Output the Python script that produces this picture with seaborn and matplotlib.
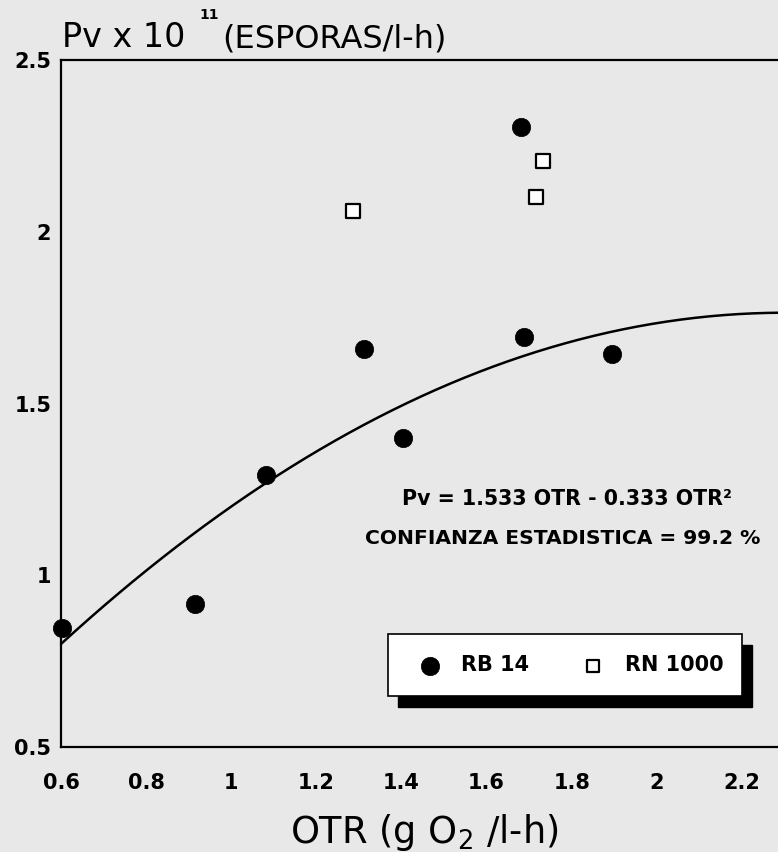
import numpy as np
import pandas as pd
import seaborn as sns
import matplotlib
matplotlib.use("Agg")
import matplotlib.pyplot as plt
from matplotlib.patches import Rectangle

# ---- data ----
rb14_otr = [0.602, 0.915, 1.082, 1.313, 1.404, 1.687, 1.682, 1.895]
rb14_pv = [0.845, 0.916, 1.291, 1.660, 1.401, 1.693, 2.304, 1.645]
rn1000_otr = [1.287, 1.716, 1.732]
rn1000_pv = [2.060, 2.100, 2.207]
# fitted curve as stated on the chart: Pv = 1.533 OTR - 0.333 OTR^2
fit_lin = 1.533
fit_quad = -0.333
x_ticks = [0.6, 0.8, 1.0, 1.2, 1.4, 1.6, 1.8, 2.0, 2.2]
x_tick_labels = ["0.6", "0.8", "1", "1.2", "1.4", "1.6", "1.8", "2", "2.2"]
y_ticks = [0.5, 1.0, 1.5, 2.0, 2.5]
y_tick_labels = ["0.5", "1", "1.5", "2", "2.5"]
series_names = ["RB 14", "RN 1000"]

sns.set_style("white")
plt.rcParams["font.family"] = ["DejaVu Sans"]
plt.rcParams["mathtext.fontset"] = "dejavusans"
plt.rcParams["text.color"] = "black"
plt.rcParams["axes.labelcolor"] = "black"
plt.rcParams["xtick.color"] = "black"
plt.rcParams["ytick.color"] = "black"

W, H = 778, 852
fig = plt.figure(figsize=(W / 100, H / 100), dpi=100)
bg = "#e8e8e8"
fig.patch.set_facecolor(bg)

x0, x1 = 61, 778
y_top, y_bot = 60, 747
ax = fig.add_axes([x0 / W, 1 - y_bot / H, (x1 - x0) / W, (y_bot - y_top) / H])
ax.set_facecolor(bg)

xmin = 0.6
xmax = 0.6 + (x1 - x0) / 425.6
ax.set_xlim(xmin, xmax)
ax.set_ylim(0.5, 2.5)

df_rb = pd.DataFrame({"OTR": rb14_otr, "Pv": rb14_pv})
df_rn = pd.DataFrame({"OTR": rn1000_otr, "Pv": rn1000_pv})

xs = np.linspace(xmin, xmax, 200)
df_fit = pd.DataFrame({"OTR": xs, "Pv": fit_lin * xs + fit_quad * xs ** 2})
sns.lineplot(data=df_fit, x="OTR", y="Pv", ax=ax, color="black", linewidth=1.8,
             clip_on=False, zorder=2)

sns.scatterplot(data=df_rb, x="OTR", y="Pv", ax=ax, marker="o", s=175,
                color="black", edgecolor="black", linewidth=0.5,
                label=series_names[0], clip_on=False, zorder=3)
sns.scatterplot(data=df_rn, x="OTR", y="Pv", ax=ax, marker="s", s=105,
                facecolor="white", edgecolor="black", linewidth=1.6,
                label=series_names[1], clip_on=False, zorder=3)

ax.set_xlabel("")
ax.set_ylabel("")
ax.set_xticks(x_ticks)
ax.set_xticklabels(x_tick_labels)
ax.set_yticks(y_ticks)
ax.set_yticklabels(y_tick_labels)
for lab in ax.get_xticklabels() + ax.get_yticklabels():
    lab.set_fontweight("bold")
    lab.set_fontsize(15)
    lab.set_color("black")
ax.tick_params(axis="x", direction="in", length=9, width=1.4, pad=19, colors="black")
ax.tick_params(axis="y", direction="in", length=9, width=1.4, pad=7, colors="black")

for side in ["left", "bottom", "top"]:
    ax.spines[side].set_visible(True)
    ax.spines[side].set_color("black")
    ax.spines[side].set_linewidth(1.6)
ax.spines["right"].set_visible(False)

# title (three pieces to place the raised exponent like the original)
fig.text(62 / W, 1 - 47 / H, "Pv x 10", fontsize=24, ha="left", va="baseline")
fig.text(199 / W, 1 - 19 / H, "11", fontsize=10, fontweight="bold", ha="left", va="baseline")
fig.text(222 / W, 1 - 47 / H, "(ESPORAS/l-h)", fontsize=23, ha="left", va="baseline")
# x axis title
fig.text(290 / W, 1 - 843 / H, "OTR (g O$_{2}$ /l-h)", fontsize=26.5,
         ha="left", va="baseline")

# equation annotation
fig.text(402 / W, 1 - 505 / H, "Pv = 1.533 OTR - 0.333 OTR\u00b2", fontsize=14.8,
         fontweight="bold", ha="left", va="baseline")
fig.text(365 / W, 1 - 544 / H, "CONFIANZA ESTADISTICA = 99.2 %", fontsize=14.6,
         fontweight="bold", ha="left", va="baseline")

# legend box with solid shadow
bx0, by0, bx1, by1 = 388, 634, 742, 696
shadow = Rectangle(((bx0 + 10) / W, 1 - (by1 + 11) / H), (bx1 - bx0) / W, (by1 - by0) / H,
                   transform=fig.transFigure, facecolor="black", edgecolor="black",
                   zorder=6, clip_on=False)
box = Rectangle((bx0 / W, 1 - by1 / H), (bx1 - bx0) / W, (by1 - by0) / H,
                transform=fig.transFigure, facecolor="white", edgecolor="black",
                linewidth=1.2, zorder=7, clip_on=False)
ax.add_patch(shadow)
ax.add_patch(box)

leg = ax.legend(ncol=2, frameon=False, loc="center",
                bbox_to_anchor=((bx0 + bx1) / 2 / W + 0.008, 1 - (by0 + by1) / 2 / H),
                bbox_transform=fig.transFigure,
                prop={"family": "DejaVu Sans", "weight": "bold", "size": 15},
                handletextpad=1.0, columnspacing=2.6, handlelength=1.0)
leg.set_zorder(8)
for h, sz in zip(leg.legend_handles, [175, 85]):
    h.set_sizes([sz])
for t in leg.get_texts():
    t.set_color("black")

fig.savefig("out.png", dpi=100, facecolor=fig.get_facecolor())
